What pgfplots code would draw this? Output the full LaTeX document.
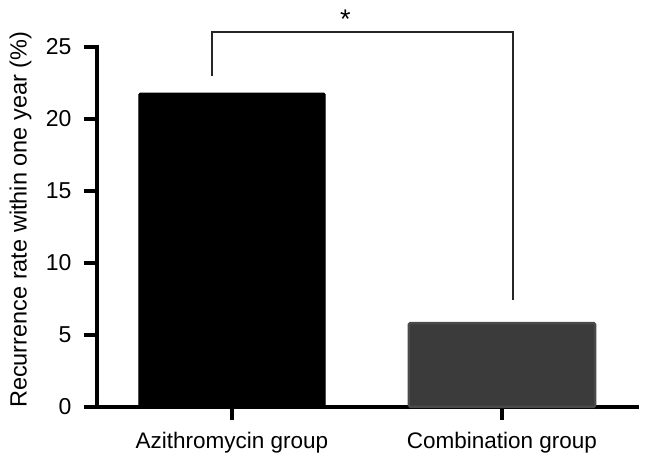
\documentclass[border=0pt]{standalone}
\usepackage{pgfplots}
\pgfplotsset{compat=1.18}
\usepackage{fontspec}
\setmainfont{Liberation Sans}
\definecolor{bartwo}{HTML}{3B3B3B}
\definecolor{bartwoedge}{HTML}{4A4A4A}
\begin{document}
\begin{tikzpicture}
\path[use as bounding box] (-97pt,-58pt) rectangle (549pt,407pt);
\begin{axis}[
  at={(0,0)}, anchor=south west,
  scale only axis, width=540pt, height=360pt,
  xmin=-0.5, xmax=1.5, ymin=0, ymax=25,
  axis x line*=bottom, axis y line*=left,
  axis line style={line width=4.5pt, line cap=rect},
  xtick={0,1}, xticklabels={Azithromycin group, Combination group},
  ytick={0,5,10,15,20,25},
  tick align=outside, major tick length=13pt,
  tick style={line width=4.5pt, black},
  x tick label style={font=\fontsize{22.5}{27}\selectfont, yshift=-9pt},
  y tick label style={font=\fontsize{23}{27}\selectfont, xshift=-9pt},
  /pgf/number format/assume math mode=true,
  ylabel={Recurrence rate within one year (\%)},
  ylabel style={font=\fontsize{23.5}{28}\selectfont, at={(axis description cs:0,0.52)}, anchor=south, yshift=62pt},
  ybar, bar width=0.69, bar shift=0pt,
  clip=false,
]
\addplot[fill=black, draw=black, line width=1pt, rounded corners=1.5pt] coordinates {(0,21.8)};
\addplot[fill=bartwo, draw=bartwoedge, line width=2.5pt, rounded corners=1.5pt] coordinates {(1,5.83)};
\draw[line width=1.6pt, black!85] (axis cs:-0.074,23.0) -- (axis cs:-0.074,26.05) -- (axis cs:1.04,26.05) -- (axis cs:1.04,7.4);
\node[font=\fontsize{27}{30}\selectfont, anchor=base, inner sep=0pt] at (axis cs:0.42,26.3) {*};
\end{axis}
\end{tikzpicture}
\end{document}
